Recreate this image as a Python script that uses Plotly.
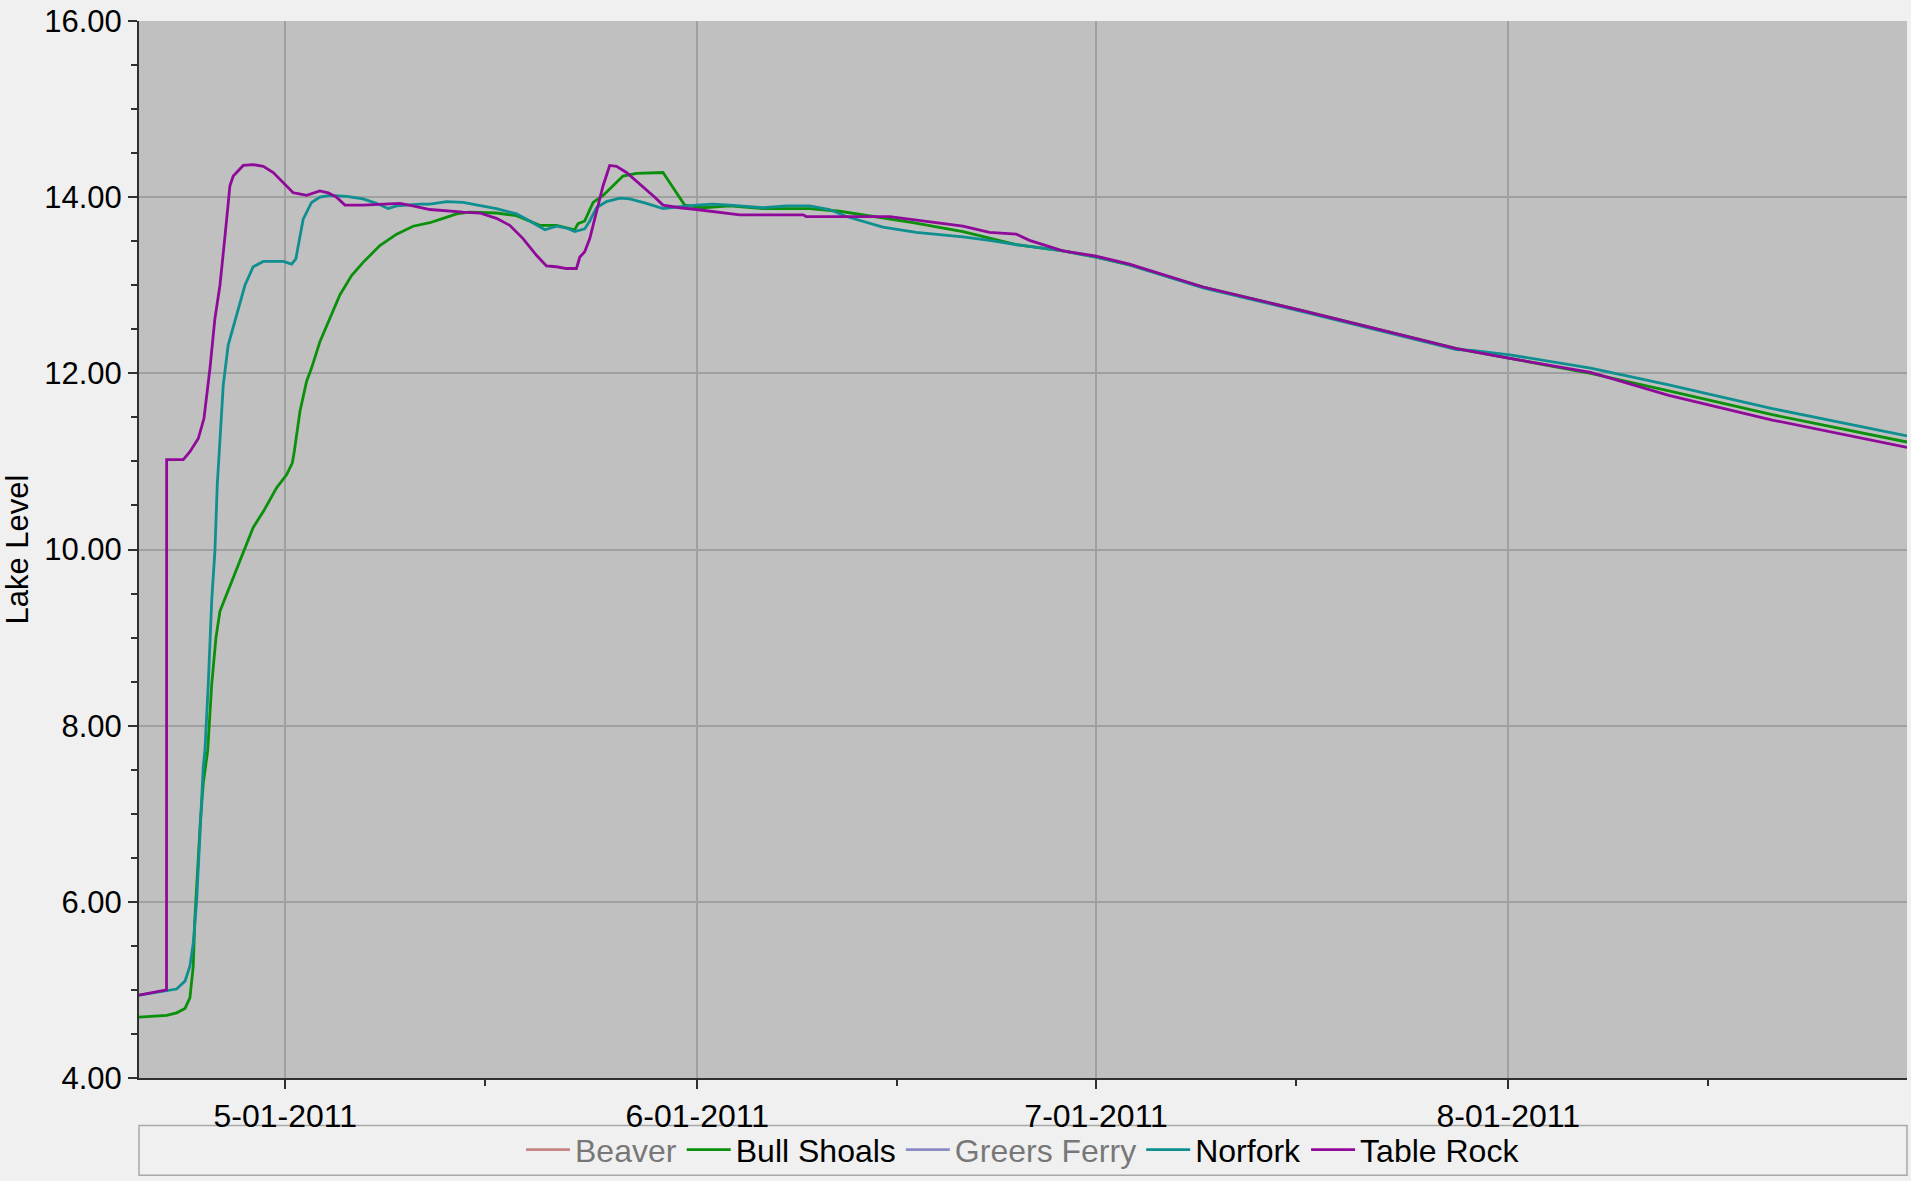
import pandas as pd
import plotly.graph_objects as go

START = "2011-04-20"

# Table Rock
tr_days = [0, 2.07, 2.08, 3.33, 3.83, 4.46, 4.89, 5.34, 5.71, 6.09, 6.47, 6.84, 7.09, 7.84, 8.59,
           9.35, 10.1, 10.85, 11.6, 11.98, 12.61, 13.6, 14.23, 14.86, 15.49, 16.86, 18.37, 19.62,
           20.6, 21.88, 24.38, 25.64, 26.89, 27.89, 28.89, 29.9, 30.65, 31.41, 32.16, 32.91, 33.16,
           33.53, 33.91, 34.41, 34.91, 35.41, 35.92, 36.67, 37.42, 38.17, 38.8, 39.42, 40.68, 41.93,
           43.18, 44.44, 45.19, 49.95, 50.2, 56.47, 57.47, 59.47, 61.98, 63.98, 65.99, 66.99, 67.99,
           69.5, 72.0, 74.51, 80.05, 87.83, 95.62, 99.12, 103.13, 109.2, 115.08, 122.87, 133.0]
tr_vals = [4.94, 5.00, 11.02, 11.02, 11.11, 11.26, 11.49, 12.06, 12.62, 13.00, 13.56, 14.13, 14.24,
           14.36, 14.37, 14.35, 14.28, 14.17, 14.05, 14.04, 14.02, 14.07, 14.05, 14.00, 13.91, 13.91,
           13.92, 13.93, 13.90, 13.86, 13.83, 13.82, 13.76, 13.68, 13.53, 13.34, 13.22, 13.21, 13.19,
           13.19, 13.32, 13.38, 13.53, 13.83, 14.13, 14.36, 14.35, 14.28, 14.18, 14.09, 14.00, 13.91,
           13.88, 13.86, 13.84, 13.82, 13.80, 13.80, 13.78, 13.78, 13.76, 13.72, 13.67, 13.60, 13.58,
           13.51, 13.46, 13.39, 13.33, 13.24, 12.98, 12.70, 12.41, 12.28, 12.17, 12.01, 11.75, 11.47,
           11.16]

# Norfork
nf_days = [0, 2.08, 2.83, 3.46, 3.83, 4.08, 4.34, 4.59, 4.83, 4.96, 5.21, 5.47, 5.71, 5.89, 6.04,
           6.34, 6.71, 7.35, 7.97, 8.59, 9.35, 10.85, 11.48, 11.8, 12.11, 12.35, 12.98, 13.61, 14.36,
           15.62, 16.86, 17.87, 18.74, 19.38, 21.13, 21.88, 23.14, 24.38, 26.89, 28.4, 29.4, 30.53,
           31.41, 32.16, 32.78, 33.53, 33.91, 34.41, 35.17, 36.17, 36.92, 38.17, 39.42, 39.92, 41.93,
           43.18, 44.44, 46.94, 48.71, 50.45, 51.95, 53.21, 55.96, 58.47, 61.98, 63.98, 65.99, 69.5,
           72.0, 74.51, 80.05, 87.83, 95.62, 99.12, 100.29, 103.13, 109.2, 115.08, 122.87, 133.0]
nf_vals = [4.94, 4.99, 5.01, 5.10, 5.27, 5.53, 6.02, 6.78, 7.53, 7.72, 8.47, 9.42, 9.98, 10.74, 11.11,
           11.87, 12.32, 12.66, 13.00, 13.21, 13.27, 13.27, 13.24, 13.30, 13.56, 13.75, 13.94, 14.00,
           14.02, 14.01, 13.98, 13.93, 13.87, 13.90, 13.92, 13.92, 13.95, 13.94, 13.87, 13.81, 13.73,
           13.63, 13.67, 13.65, 13.61, 13.64, 13.73, 13.88, 13.95, 13.99, 13.98, 13.93, 13.87, 13.88,
           13.91, 13.92, 13.91, 13.88, 13.90, 13.90, 13.86, 13.78, 13.66, 13.60, 13.55, 13.51, 13.46,
           13.39, 13.32, 13.23, 12.97, 12.69, 12.40, 12.27, 12.26, 12.21, 12.06, 11.87, 11.60, 11.29]

# Bull Shoals
bs_days = [0, 2.08, 2.83, 3.46, 3.83, 4.08, 4.21, 4.34, 4.59, 4.83, 5.17, 5.47, 5.79, 6.09, 6.59,
           7.09, 7.84, 8.59, 9.35, 10.35, 11.11, 11.53, 11.68, 12.11, 12.61, 12.98, 13.61, 14.36,
           15.11, 15.99, 16.86, 18.12, 19.38, 20.62, 21.88, 22.88, 23.89, 24.89, 26.89, 28.4, 30.15,
           31.41, 32.78, 33.03, 33.53, 34.16, 34.91, 35.66, 36.41, 37.42, 39.42, 40.17, 41.05, 42.43,
           44.44, 46.94, 50.45, 52.71, 55.21, 58.22, 61.98, 64.49, 65.99, 69.5, 72.0, 74.51, 80.05,
           87.83, 95.62, 99.12, 103.13, 109.2, 115.08, 122.87, 133.0]
bs_vals = [4.69, 4.71, 4.74, 4.79, 4.91, 5.27, 5.83, 6.21, 6.85, 7.34, 7.72, 8.47, 9.00, 9.30, 9.49,
           9.68, 9.98, 10.25, 10.43, 10.70, 10.85, 10.98, 11.11, 11.57, 11.91, 12.06, 12.36, 12.62,
           12.89, 13.11, 13.26, 13.45, 13.58, 13.67, 13.71, 13.76, 13.81, 13.83, 13.82, 13.79, 13.68,
           13.68, 13.63, 13.70, 13.73, 13.94, 14.02, 14.13, 14.24, 14.27, 14.28, 14.11, 13.91, 13.88,
           13.90, 13.87, 13.87, 13.84, 13.78, 13.71, 13.61, 13.52, 13.46, 13.39, 13.32, 13.23, 12.98,
           12.70, 12.41, 12.28, 12.17, 12.00, 11.80, 11.53, 11.22]

series_names = ["Beaver", "Bull Shoals", "Greers Ferry", "Norfork", "Table Rock"]
series_colors = ["#a01c1c", "#0a900a", "#2828a0", "#0f8f8f", "#900a9a"]

x_ticks = ["2011-05-01", "2011-06-01", "2011-07-01", "2011-08-01"]
x_range = ["2011-04-20", "2011-08-31"]
y_range = [4, 16]


def to_dates(days):
    return pd.Timestamp(START) + pd.to_timedelta(days, unit="D")


data = {
    "Beaver": None,
    "Bull Shoals": (bs_days, bs_vals),
    "Greers Ferry": None,
    "Norfork": (nf_days, nf_vals),
    "Table Rock": (tr_days, tr_vals),
}

fig = go.Figure()
for name, color in zip(series_names, series_colors):
    d = data[name]
    if d is None:
        fig.add_trace(go.Scatter(x=[pd.Timestamp(START)], y=[None], mode="lines", name=name,
                                 line=dict(color=color, width=2.8), visible="legendonly"))
    else:
        fig.add_trace(go.Scatter(x=to_dates(d[0]), y=d[1], mode="lines", name=name,
                                 line=dict(color=color, width=2.8)))

FONT = "Liberation Sans, Arial, sans-serif"

fig.update_layout(
    width=1911, height=1181,
    paper_bgcolor="#f0f0f0", plot_bgcolor="#c0c0c0",
    margin=dict(l=139, r=4, t=18, b=102),
    font=dict(family=FONT, size=31, color="#000000"),
    showlegend=True,
    legend=dict(orientation="h", x=0.5, xanchor="center", y=-0.068, yanchor="middle",
                font=dict(family=FONT, size=32, color="#000000"), bgcolor="rgba(0,0,0,0)",
                itemwidth=44, tracegroupgap=0),
    shapes=[dict(type="rect", xref="paper", yref="paper", x0=0, x1=1, y0=-0.045, y1=-0.092,
                 line=dict(color="#a8a8a8", width=1.5), fillcolor="rgba(0,0,0,0)", layer="below")],
)

fig.update_xaxes(
    type="date", range=x_range, tickvals=x_ticks, tickformat="%-m-%d-%Y",
    showgrid=True, gridcolor="#a0a0a0", gridwidth=1.5,
    showline=True, linecolor="#303030", linewidth=2,
    ticks="outside", ticklen=9, tickcolor="#303030", tickwidth=1.5,
    tickfont=dict(family=FONT, size=32),
    minor=dict(dtick="M1", tick0="2011-04-16", ticks="outside", ticklen=6,
               tickcolor="#303030", showgrid=False),
    zeroline=False,
)
fig.update_yaxes(
    range=y_range, dtick=2, tick0=4, tickformat=".2f",
    showgrid=True, gridcolor="#a0a0a0", gridwidth=1.5,
    showline=True, linecolor="#303030", linewidth=2,
    ticks="outside", ticklen=9, tickcolor="#303030", tickwidth=1.5,
    tickfont=dict(family=FONT, size=31),
    minor=dict(dtick=0.5, ticks="outside", ticklen=6, tickcolor="#303030", showgrid=False),
    title=dict(text="Lake Level", font=dict(family=FONT, size=31), standoff=14),
    zeroline=False,
)

fig.write_html(
    "out.html",
    config={"displayModeBar": False},
    post_script="document.body.style.margin='0';document.body.style.background='#f0f0f0';",
)
